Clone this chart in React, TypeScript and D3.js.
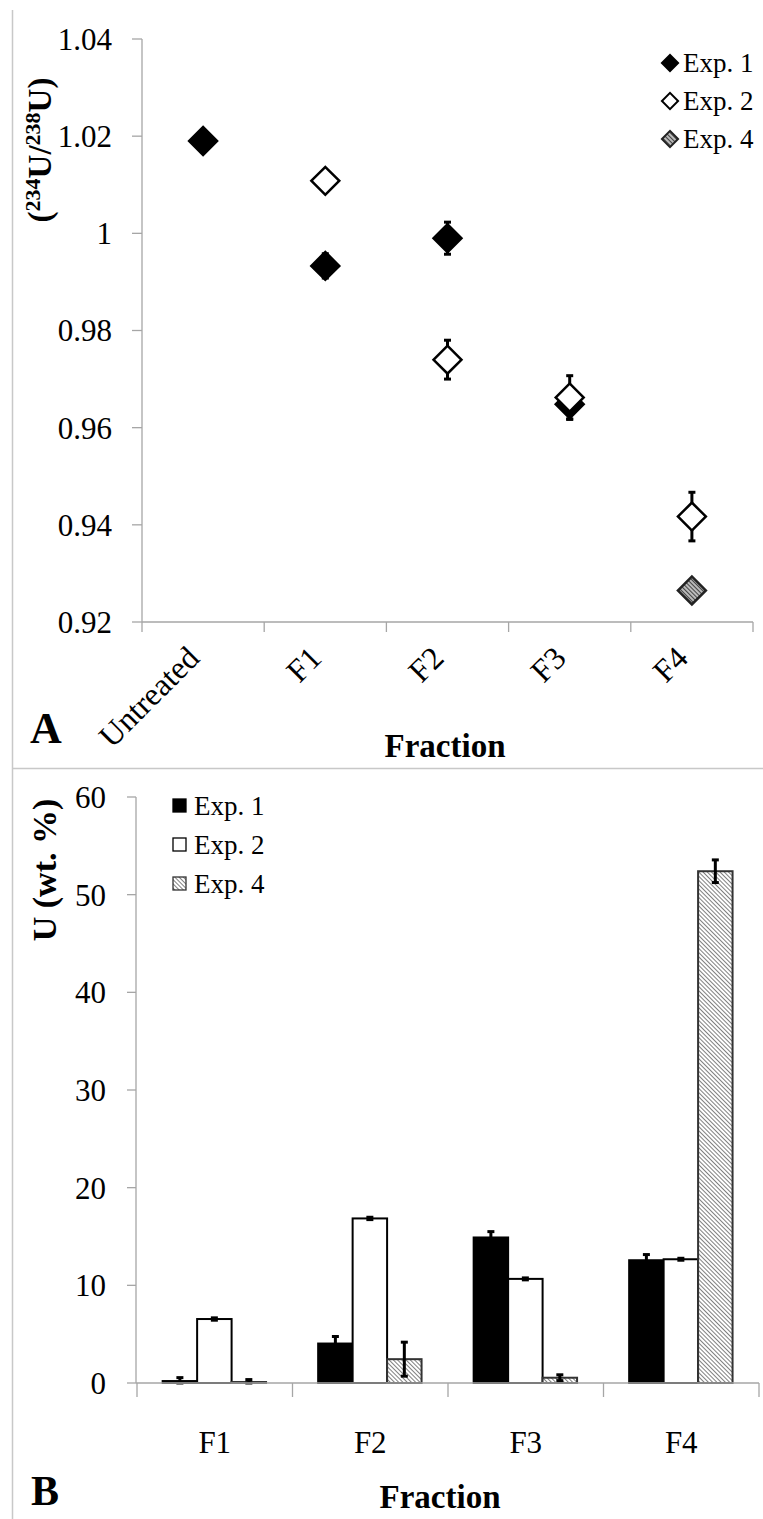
import React from 'react';
import * as d3 from 'd3';

// panel A: isotope ratio per fraction
const fractionsA = ['Untreated', 'F1', 'F2', 'F3', 'F4'];
const exp1Ratio = [1.019, 0.9933, 0.999, 0.9648, null];
const exp1RatioErr = [0.0005, 0.0025, 0.0033, 0.003, 0];
const exp2Ratio = [null, 1.0108, 0.974, 0.9662, 0.9417];
const exp2RatioErr = [0, 0.001, 0.004, 0.0045, 0.005];
const exp4Ratio = [null, null, null, null, 0.9265];
const exp4RatioErr = [0, 0, 0, 0, 0.0005];
const ticksA = [0.92, 0.94, 0.96, 0.98, 1, 1.02, 1.04];

// panel B: U content per fraction
const fractionsB = ['F1', 'F2', 'F3', 'F4'];
const seriesB = ['Exp. 1', 'Exp. 2', 'Exp. 4'];
const exp1U = [0.2, 4.04, 14.9, 12.57];
const exp1UErr = [0.35, 0.72, 0.6, 0.58];
const exp2U = [6.55, 16.85, 10.66, 12.67];
const exp2UErr = [0.12, 0.12, 0.1, 0.1];
const exp4U = [0.1, 2.44, 0.54, 52.4];
const exp4UErr = [0.25, 1.74, 0.3, 1.16];
const ticksB = [0, 10, 20, 30, 40, 50, 60];

const FONT = '"Liberation Serif", "Times New Roman", serif';
const AXIS = '#a6a6a6';

const fmtA = (v: number) => (v === 1 ? '1' : d3.format('.2f')(v));

function ErrBar({ x, y0, y1, cap = 7 }: { x: number; y0: number; y1: number; cap?: number }) {
  return (
    <g stroke="#000" strokeWidth={3}>
      <line x1={x} x2={x} y1={y0} y2={y1} />
      <line x1={x - cap / 2} x2={x + cap / 2} y1={y0} y2={y0} />
      <line x1={x - cap / 2} x2={x + cap / 2} y1={y1} y2={y1} />
    </g>
  );
}

export default function App() {
  // ---- panel A scales
  const xA = d3.scaleBand().domain(fractionsA).range([142, 753]);
  const yA = d3.scaleLinear().domain([0.92, 1.04]).range([622, 39]);
  const diamond = d3.symbol().type(d3.symbolSquare).size(390)()!;
  const diamondSmall = d3.symbol().type(d3.symbolSquare).size(130)()!;

  const seriesA = [
    { name: 'Exp. 1', vals: exp1Ratio, errs: exp1RatioErr, fill: '#000', stroke: '#000' },
    { name: 'Exp. 2', vals: exp2Ratio, errs: exp2RatioErr, fill: '#fff', stroke: '#000' },
    { name: 'Exp. 4', vals: exp4Ratio, errs: exp4RatioErr, fill: 'url(#hatchA)', stroke: '#222' },
  ];

  // ---- panel B scales
  const xB = d3.scaleBand().domain(fractionsB).range([137, 759]);
  const x1 = d3.scaleBand().domain(seriesB).range([xB.bandwidth() * 0.165, xB.bandwidth() * 0.83]);
  const yB = d3.scaleLinear().domain([0, 60]).range([1383, 797]);

  const barSeries = [
    { name: 'Exp. 1', vals: exp1U, errs: exp1UErr, fill: '#000', stroke: '#000' },
    { name: 'Exp. 2', vals: exp2U, errs: exp2UErr, fill: '#fff', stroke: '#000' },
    { name: 'Exp. 4', vals: exp4U, errs: exp4UErr, fill: 'url(#hatchB)', stroke: '#333' },
  ];

  return (
    <svg width={763} height={1519} style={{ position: 'absolute', left: 0, top: 0 }} fontFamily={FONT}>
      <defs>
        <pattern id="hatchA" patternUnits="userSpaceOnUse" width={3} height={3}>
          <rect width={3} height={3} fill="#d0d0d0" />
          <line x1={0} y1={1.5} x2={3} y2={1.5} stroke="#444" strokeWidth={1.3} />
        </pattern>
        <pattern id="hatchB" patternUnits="userSpaceOnUse" width={3} height={3} patternTransform="rotate(-45)">
          <rect width={3} height={3} fill="#fff" />
          <line x1={0} y1={0} x2={0} y2={3} stroke="#555" strokeWidth={1.5} />
        </pattern>
      </defs>

      {/* frame lines */}
      <line x1={12.5} x2={12.5} y1={10} y2={1519} stroke="#c8c8c8" strokeWidth={1.5} />
      <line x1={12} x2={763} y1={768.5} y2={768.5} stroke="#c8c8c8" strokeWidth={1.5} />

      {/* ================= PANEL A ================= */}
      <g>
        <line x1={142} x2={142} y1={yA(1.04)} y2={yA(0.92)} stroke={AXIS} strokeWidth={1.3} />
        {ticksA.map((t) => (
          <g key={t}>
            <line x1={132} x2={142} y1={yA(t)} y2={yA(t)} stroke={AXIS} strokeWidth={1.3} />
            <text x={112} y={yA(t)} dy="0.35em" textAnchor="end" fontSize={31}>
              {fmtA(t)}
            </text>
          </g>
        ))}
        <line x1={142} x2={753} y1={yA(0.92)} y2={yA(0.92)} stroke={AXIS} strokeWidth={1.3} />
        {[...fractionsA.map((f) => xA(f)!), 753].map((x, i) => (
          <line key={i} x1={x} x2={x} y1={yA(0.92)} y2={yA(0.92) + 10} stroke={AXIS} strokeWidth={1.3} />
        ))}
        {fractionsA.map((f) => {
          const cx = xA(f)! + xA.bandwidth() / 2 - 2;
          return (
            <text key={f} transform={`translate(${cx},660) rotate(-45)`} textAnchor="end" fontSize={32}>
              {f}
            </text>
          );
        })}

        {/* error bars below markers */}
        {seriesA.map((s) =>
          s.vals.map((v, i) =>
            v == null ? null : (
              <ErrBar
                key={s.name + i}
                x={xA(fractionsA[i])! + xA.bandwidth() / 2}
                y0={yA(v + s.errs[i])}
                y1={yA(v - s.errs[i])}
              />
            )
          )
        )}
        {seriesA.map((s) =>
          s.vals.map((v, i) =>
            v == null ? null : (
              <path
                key={s.name + 'm' + i}
                d={diamond}
                transform={`translate(${xA(fractionsA[i])! + xA.bandwidth() / 2},${yA(v)}) rotate(45)`}
                fill={s.fill}
                stroke={s.stroke}
                strokeWidth={2.5}
              />
            )
          )
        )}

        {/* legend A */}
        {seriesA.map((s, i) => (
          <g key={s.name} transform={`translate(670,${63 + i * 38})`}>
            <path d={diamondSmall} transform="rotate(45)" fill={s.fill} stroke={s.stroke} strokeWidth={2} />
            <text x={13} y={0} dy="0.35em" fontSize={27}>
              {s.name}
            </text>
          </g>
        ))}

        <text transform="translate(51,150) rotate(-90)" textAnchor="middle" fontSize={33} fontWeight="bold">
          (<tspan fontSize={22} dy={-11}>234</tspan>
          <tspan dy={11}>U/</tspan>
          <tspan fontSize={22} dy={-11}>238</tspan>
          <tspan dy={11}>U)</tspan>
        </text>
        <text x={30} y={743} fontSize={44} fontWeight="bold">A</text>
        <text x={445} y={757} textAnchor="middle" fontSize={33} fontWeight="bold">Fraction</text>
      </g>

      {/* ================= PANEL B ================= */}
      <g>
        <line x1={136} x2={136} y1={yB(60)} y2={yB(0)} stroke={AXIS} strokeWidth={1.3} />
        {ticksB.map((t) => (
          <g key={t}>
            <line x1={127} x2={136} y1={yB(t)} y2={yB(t)} stroke={AXIS} strokeWidth={1.3} />
            <text x={106} y={yB(t)} dy="0.35em" textAnchor="end" fontSize={31}>
              {t}
            </text>
          </g>
        ))}

        {barSeries.map((s) =>
          s.vals.map((v, i) => {
            const x = xB(fractionsB[i])! + x1(s.name)!;
            return (
              <rect
                key={s.name + i}
                x={x}
                y={yB(v)}
                width={x1.bandwidth()}
                height={yB(0) - yB(v)}
                fill={s.fill}
                stroke={s.stroke}
                strokeWidth={2}
              />
            );
          })
        )}
        {barSeries.map((s) =>
          s.vals.map((v, i) => (
            <ErrBar
              key={s.name + 'e' + i}
              x={xB(fractionsB[i])! + x1(s.name)! + x1.bandwidth() / 2}
              y0={yB(v + s.errs[i])}
              y1={yB(Math.max(0, v - s.errs[i]))}
            />
          ))
        )}

        <line x1={136} x2={759} y1={yB(0)} y2={yB(0)} stroke={AXIS} strokeWidth={1.3} />
        {[...fractionsB.map((f) => xB(f)!), 759].map((x, i) => (
          <line key={i} x1={x} x2={x} y1={yB(0)} y2={yB(0) + 14} stroke={AXIS} strokeWidth={1.3} />
        ))}
        {fractionsB.map((f) => (
          <text key={f} x={xB(f)! + xB.bandwidth() / 2} y={1453} textAnchor="middle" fontSize={31}>
            {f}
          </text>
        ))}

        {/* legend B */}
        {barSeries.map((s, i) => (
          <g key={s.name} transform={`translate(173,${815 + i * 39})`}>
            <rect x={0} y={-16} width={13} height={13} fill={s.fill} stroke={s.stroke} strokeWidth={1.3} />
            <text x={21} y={0} fontSize={27}>
              {s.name}
            </text>
          </g>
        ))}

        <text transform="translate(56,870) rotate(-90)" textAnchor="middle" fontSize={34} fontWeight="bold">
          U (wt. %)
        </text>
        <text x={31} y={1505} fontSize={42} fontWeight="bold">B</text>
        <text x={440} y={1508} textAnchor="middle" fontSize={33} fontWeight="bold">Fraction</text>
      </g>
    </svg>
  );
}
